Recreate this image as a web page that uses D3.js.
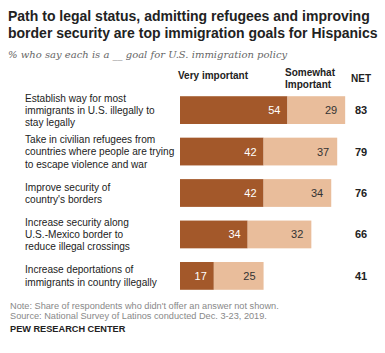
<!DOCTYPE html>
<html>
<head>
<meta charset="utf-8">
<script src="https://cdn.jsdelivr.net/npm/d3@7"></script>
<style>
  body { margin: 0; background: #fff; }
  svg { display: block; font-family: "Liberation Sans", Arial, sans-serif; }
</style>
</head>
<body>
<svg id="chart"></svg>
<script>
 var width = 385;
 var height = 353;

 // data
 const goals = [
   ["Establish way for most", "immigrants in U.S. illegally to", "stay legally"],
   ["Take in civilian refugees from", "countries where people are trying", "to escape violence and war"],
   ["Improve security of", "country's borders"],
   ["Increase security along", "U.S.-Mexico border to", "reduce illegal crossings"],
   ["Increase deportations of", "immigrants in country illegally"]
 ];
 const veryImportant = [54, 42, 42, 34, 17];
 const somewhatImportant = [29, 37, 34, 32, 25];
 const netValues = [83, 79, 76, 66, 41];

 const darkColor = "#a3582a";
 const lightColor = "#e9bd9b";

 const svg = d3.select("#chart")
   .attr("width", width)
   .attr("height", height);

 // title
 svg.append("text")
   .attr("x", 8).attr("y", 21)
   .style("font-size", "14px").style("font-weight", "bold").attr("fill", "#222")
   .text("Path to legal status, admitting refugees and improving");
 svg.append("text")
   .attr("x", 8).attr("y", 38)
   .style("font-size", "14px").style("font-weight", "bold").attr("fill", "#222")
   .text("border security are top immigration goals for Hispanics");

 svg.append("text")
   .attr("x", 8).attr("y", 58)
   .style("font-family", "'DejaVu Serif', 'Liberation Serif', serif")
   .style("font-style", "italic").style("font-size", "10px").attr("fill", "#666")
   .text("% who say each is a __ goal for U.S. immigration policy");

 const x = d3.scaleLinear()
   .domain([0, 100])
   .range([180, 379]);

 const y = d3.scaleBand()
   .domain(d3.range(goals.length))
   .range([90, 296])
   .paddingInner(0.33)
   .paddingOuter(0.15);

 // column headers
 svg.append("text")
   .attr("x", 178).attr("y", 79)
   .style("font-size", "10px").style("font-weight", "bold").attr("fill", "#222")
   .text("Very important");
 svg.append("text")
   .attr("x", 285).attr("y", 76)
   .style("font-size", "10px").style("font-weight", "bold").attr("fill", "#222")
   .text("Somewhat");
 svg.append("text")
   .attr("x", 285).attr("y", 88)
   .style("font-size", "10px").style("font-weight", "bold").attr("fill", "#222")
   .text("Important");
 svg.append("text")
   .attr("x", 361).attr("y", 82)
   .attr("text-anchor", "middle")
   .style("font-size", "10px").style("font-weight", "bold").attr("fill", "#222")
   .text("NET");

 const rows = svg.selectAll(".row")
   .data(goals)
   .enter()
   .append("g")
   .attr("class", "row")
   .attr("transform", (d, i) => `translate(0, ${y(i)})`);

 // category labels
 rows.append("text")
   .attr("x", 25)
   .style("font-size", "10.1px").attr("fill", "#222")
   .each(function(d) {
     const t = d3.select(this);
     const lineH = 12.3;
     const start = y.bandwidth() / 2 - (d.length - 1) * lineH / 2 + 3.7;
     d.forEach((line, j) => {
       t.append("tspan").attr("x", 25).attr("y", start + j * lineH).text(line);
     });
   });

 rows.append("rect")
   .attr("x", x(0))
   .attr("y", 0)
   .attr("width", (d, i) => x(veryImportant[i]) - x(0))
   .attr("height", y.bandwidth())
   .attr("fill", darkColor);

 rows.append("rect")
   .attr("x", (d, i) => x(veryImportant[i]))
   .attr("y", 0)
   .attr("width", (d, i) => x(veryImportant[i] + somewhatImportant[i]) - x(veryImportant[i]))
   .attr("height", y.bandwidth())
   .attr("fill", lightColor);

 rows.append("text")
   .attr("x", (d, i) => x(veryImportant[i]) - 7)
   .attr("y", y.bandwidth() / 2 + 4)
   .attr("text-anchor", "end")
   .style("font-size", "11px").attr("fill", "#fff")
   .text((d, i) => veryImportant[i]);

 rows.append("text")
   .attr("x", (d, i) => x(veryImportant[i] + somewhatImportant[i]) - 8)
   .attr("y", y.bandwidth() / 2 + 4)
   .attr("text-anchor", "end")
   .style("font-size", "11px").attr("fill", "#333")
   .text((d, i) => somewhatImportant[i]);

 rows.append("text")
   .attr("x", 361)
   .attr("y", y.bandwidth() / 2 + 4)
   .attr("text-anchor", "middle")
   .style("font-size", "11px").style("font-weight", "bold").attr("fill", "#222")
   .text((d, i) => netValues[i]);

 // footer
 svg.append("text")
   .attr("x", 10).attr("y", 309)
   .style("font-size", "9.2px").attr("fill", "#888")
   .text("Note: Share of respondents who didn't offer an answer not shown.");
 svg.append("text")
   .attr("x", 10).attr("y", 318.5)
   .style("font-size", "9.2px").attr("fill", "#888")
   .text("Source: National Survey of Latinos conducted Dec. 3-23, 2019.");
 svg.append("text")
   .attr("x", 10).attr("y", 332)
   .style("font-size", "9.2px").style("font-weight", "bold").attr("fill", "#222")
   .text("PEW RESEARCH CENTER");
</script>
</body>
</html>
